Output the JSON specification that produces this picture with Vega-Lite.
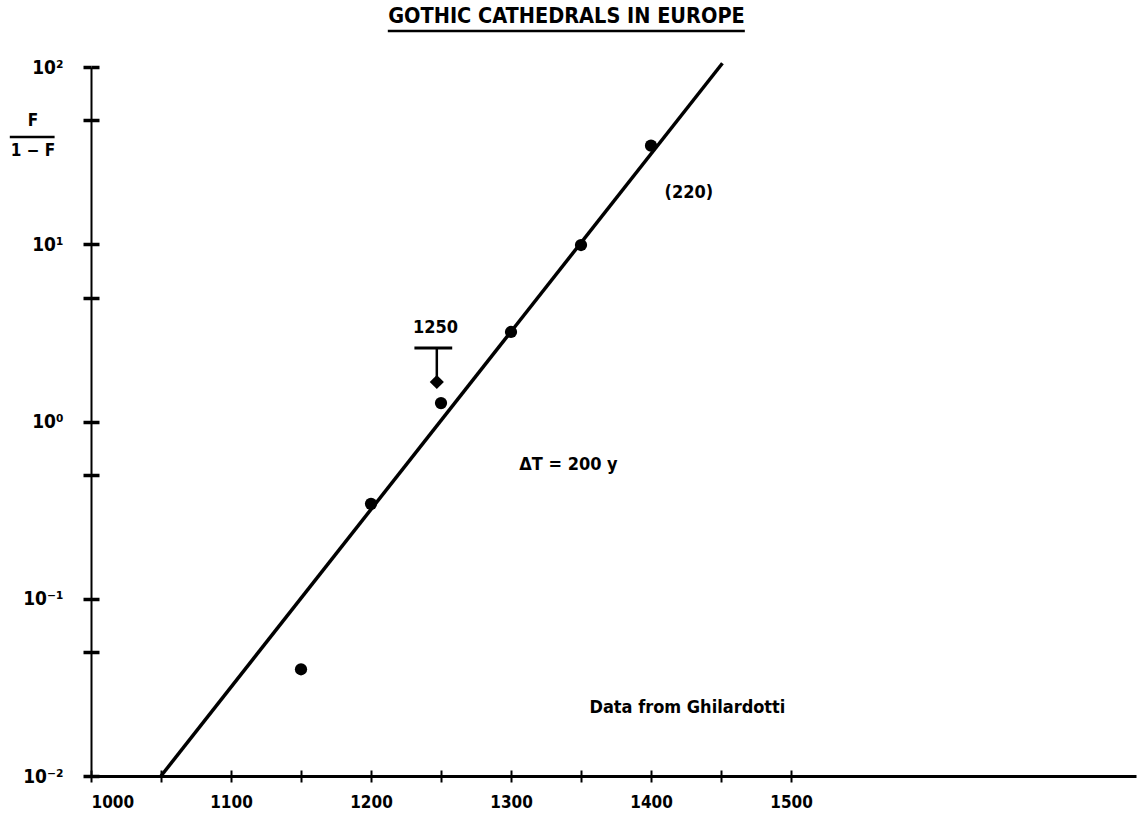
{
  "$schema": "https://vega.github.io/schema/vega-lite/v6.json",
  "width": 1045,
  "height": 709,
  "autosize": {"type": "none"},
  "padding": {"left": 91, "top": 67, "right": 2, "bottom": 45},
  "background": "white",
  "config": {
    "view": {"stroke": null},
    "font": "DejaVu Sans Condensed",
    "axis": {"grid": false, "domainColor": "black", "tickColor": "black", "labelColor": "black", "labelFont": "DejaVu Sans Condensed", "labelFontWeight": "bold", "labelFontSize": 17}
  },
  "title": {"text": "GOTHIC CATHEDRALS IN EUROPE", "font": "DejaVu Sans Condensed", "fontSize": 21.5, "fontWeight": "bold", "color": "black", "anchor": "middle", "offset": 2, "dx": -47},
  "datasets": {
    "fit": [{"year": 1050, "ratio": 0.01}, {"year": 1451, "ratio": 105}],
    "obs": [
      {"year": 1150, "ratio": 0.04},
      {"year": 1200, "ratio": 0.343},
      {"year": 1250, "ratio": 1.27},
      {"year": 1300, "ratio": 3.2},
      {"year": 1350, "ratio": 9.9},
      {"year": 1400, "ratio": 36}
    ],
    "limitBar": [{"year": 1231, "year2": 1258, "ratio": 2.6}],
    "limitStem": [{"year": 1247, "ratio": 2.6, "ratio2": 1.78}],
    "limitHead": [{"year": 1247, "ratio": 1.67}],
    "notes": [
      {"label": "(220)", "year": 1427, "ratio": 19.5},
      {"label": "ΔT = 200 y", "year": 1341, "ratio": 0.57},
      {"label": "Data from Ghilardotti", "year": 1426, "ratio": 0.0242},
      {"label": "1250", "year": 1246, "ratio": 3.37}
    ],
    "frac": [{"label": "F", "year": 958.6, "ratio": 49.5}, {"label": "1 − F", "year": 958.6, "ratio": 33.6}],
    "fracBar": [{"year": 942, "year2": 974, "ratio": 40.3}],
    "underline": [{"year": 1212, "year2": 1467, "ratio": 159.6}]
  },
  "resolve": {"axis": {"x": "independent", "y": "independent"}},
  "layer": [
    {
      "data": {"name": "fit"},
      "mark": {"type": "line", "color": "black", "strokeWidth": 3.5, "clip": false},
      "encoding": {
        "x": {"field": "year", "type": "quantitative", "scale": {"domain": [1000, 1746.4], "nice": false, "zero": false},
          "axis": {"orient": "bottom", "title": null, "values": [1000, 1050, 1100, 1150, 1200, 1250, 1300, 1350, 1400, 1450, 1500], "format": "d", "labelExpr": "datum.value % 100 == 0 ? datum.label : ''", "tickSize": 6, "tickWidth": 2, "domainWidth": 3, "labelPadding": 12, "labelOverlap": false}},
        "y": {"field": "ratio", "type": "quantitative", "scale": {"type": "log", "domain": [0.01, 100], "nice": false},
          "axis": {"orient": "left", "title": null, "values": [0.01, 0.05, 0.1, 0.5, 1, 5, 10, 50, 100], "labelExpr": "datum.value == 100 ? '10²' : datum.value == 10 ? '10¹' : datum.value == 1 ? '10⁰' : datum.value == 0.1 ? '10⁻¹' : datum.value == 0.01 ? '10⁻²' : ''", "labelFontSize": 19, "tickSize": 8, "tickWidth": 3.5, "domainWidth": 2, "labelPadding": 20, "labelFlush": false, "labelOverlap": false}}
      }
    },
    {
      "data": {"name": "obs"},
      "mark": {"type": "circle", "color": "black", "opacity": 1, "size": 150},
      "encoding": {
        "x": {"field": "year", "type": "quantitative", "scale": {"domain": [1000, 1746.4], "nice": false, "zero": false},
          "axis": {"orient": "bottom", "title": null, "values": [1000, 1050, 1100, 1150, 1200, 1250, 1300, 1350, 1400, 1450, 1500], "labels": false, "domain": false, "tickSize": -6, "tickWidth": 2}},
        "y": {"field": "ratio", "type": "quantitative", "scale": {"type": "log", "domain": [0.01, 100], "nice": false},
          "axis": {"orient": "left", "title": null, "values": [0.01, 0.05, 0.1, 0.5, 1, 5, 10, 50, 100], "labels": false, "domain": false, "tickSize": -8, "tickWidth": 3.5}}
      }
    },
    {
      "data": {"name": "limitBar"},
      "mark": {"type": "rule", "color": "black", "strokeWidth": 3},
      "encoding": {
        "x": {"field": "year", "type": "quantitative", "scale": {"domain": [1000, 1746.4], "nice": false, "zero": false}, "axis": null},
        "x2": {"field": "year2"},
        "y": {"field": "ratio", "type": "quantitative", "scale": {"type": "log", "domain": [0.01, 100], "nice": false}, "axis": null}
      }
    },
    {
      "data": {"name": "limitStem"},
      "mark": {"type": "rule", "color": "black", "strokeWidth": 2.5},
      "encoding": {
        "x": {"field": "year", "type": "quantitative", "scale": {"domain": [1000, 1746.4], "nice": false, "zero": false}, "axis": null},
        "y": {"field": "ratio", "type": "quantitative", "scale": {"type": "log", "domain": [0.01, 100], "nice": false}, "axis": null},
        "y2": {"field": "ratio2"}
      }
    },
    {
      "data": {"name": "limitHead"},
      "mark": {"type": "point", "shape": "diamond", "filled": true, "color": "black", "opacity": 1, "size": 200},
      "encoding": {
        "x": {"field": "year", "type": "quantitative", "scale": {"domain": [1000, 1746.4], "nice": false, "zero": false}, "axis": null},
        "y": {"field": "ratio", "type": "quantitative", "scale": {"type": "log", "domain": [0.01, 100], "nice": false}, "axis": null}
      }
    },
    {
      "data": {"name": "notes"},
      "mark": {"type": "text", "color": "black", "font": "DejaVu Sans Condensed", "fontSize": 18, "fontWeight": "bold", "align": "center", "baseline": "middle"},
      "encoding": {
        "x": {"field": "year", "type": "quantitative", "scale": {"domain": [1000, 1746.4], "nice": false, "zero": false}, "axis": null},
        "y": {"field": "ratio", "type": "quantitative", "scale": {"type": "log", "domain": [0.01, 100], "nice": false}, "axis": null},
        "text": {"field": "label"}
      }
    },
    {
      "data": {"name": "frac"},
      "mark": {"type": "text", "color": "black", "font": "DejaVu Sans Condensed", "fontSize": 17, "fontWeight": "bold", "align": "center", "baseline": "middle", "clip": false},
      "encoding": {
        "x": {"field": "year", "type": "quantitative", "scale": {"domain": [1000, 1746.4], "nice": false, "zero": false}, "axis": null},
        "y": {"field": "ratio", "type": "quantitative", "scale": {"type": "log", "domain": [0.01, 100], "nice": false}, "axis": null},
        "text": {"field": "label"}
      }
    },
    {
      "data": {"name": "fracBar"},
      "mark": {"type": "rule", "color": "black", "strokeWidth": 2.5, "clip": false},
      "encoding": {
        "x": {"field": "year", "type": "quantitative", "scale": {"domain": [1000, 1746.4], "nice": false, "zero": false}, "axis": null},
        "x2": {"field": "year2"},
        "y": {"field": "ratio", "type": "quantitative", "scale": {"type": "log", "domain": [0.01, 100], "nice": false}, "axis": null}
      }
    },
    {
      "data": {"name": "underline"},
      "mark": {"type": "rule", "color": "black", "strokeWidth": 2.5, "clip": false},
      "encoding": {
        "x": {"field": "year", "type": "quantitative", "scale": {"domain": [1000, 1746.4], "nice": false, "zero": false}, "axis": null},
        "x2": {"field": "year2"},
        "y": {"field": "ratio", "type": "quantitative", "scale": {"type": "log", "domain": [0.01, 100], "nice": false}, "axis": null}
      }
    }
  ]
}
